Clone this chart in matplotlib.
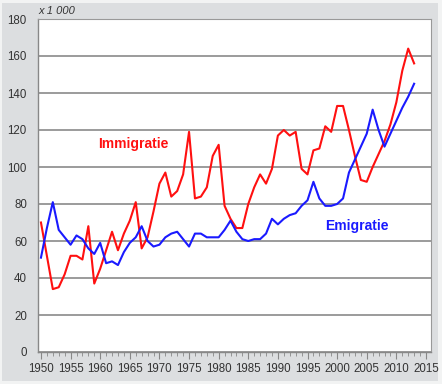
import matplotlib
matplotlib.use("Agg")
import matplotlib.pyplot as plt
from matplotlib.patches import Rectangle
from matplotlib.ticker import MultipleLocator

years = list(range(1950, 2014))
immigratie = [70, 52, 34, 35, 42, 52, 52, 50, 68, 37,
              45, 55, 65, 55, 64, 71, 81, 56, 62, 76,
              91, 97, 84, 87, 96, 119, 83, 84, 89, 106,
              112, 79, 72, 67, 67, 80, 89, 96, 91, 99,
              117, 120, 117, 119, 99, 96, 109, 110, 122, 119,
              133, 133, 120, 106, 93, 92, 100, 107, 114, 123,
              135, 152, 164, 156]
emigratie = [51, 67, 81, 66, 62, 58, 63, 61, 56, 53,
             59, 48, 49, 47, 54, 59, 62, 68, 60, 57,
             58, 62, 64, 65, 61, 57, 64, 64, 62, 62,
             62, 66, 71, 65, 61, 60, 61, 61, 64, 72,
             69, 72, 74, 75, 79, 82, 92, 83, 79, 79,
             80, 83, 97, 104, 111, 118, 131, 120, 111, 118,
             125, 132, 138, 145]
yticks = [0, 20, 40, 60, 80, 100, 120, 140, 160, 180]
xticks = list(range(1950, 2016, 5))

plt.rcParams['font.family'] = ['Liberation Sans', 'DejaVu Sans']

fig = plt.figure(figsize=(4.42, 3.84), dpi=100, facecolor='#f2f3f3')
fig.patches.append(Rectangle((0.005, 0.008), 0.986, 0.984, transform=fig.transFigure,
                             facecolor='#dcdee0', edgecolor='none', zorder=-10))
ax = fig.add_axes([38/442, 1-352/384, 393/442, 333/384])
ax.set_facecolor('white')

ax.plot(years, immigratie, color='#ff1010', lw=1.5, zorder=3)
ax.plot(years, emigratie, color='#1a1aff', lw=1.5, zorder=3)

ax.set_xlim(1949.5, 2015.85)
ax.set_ylim(0, 180)
ax.set_yticks(yticks)
ax.set_xticks(xticks)
ax.xaxis.set_minor_locator(MultipleLocator(1))
ax.grid(axis='y', color='#808080', lw=1.1, zorder=1)
ax.tick_params(axis='y', length=0, pad=8, labelsize=8.3, labelcolor='#333333')
ax.tick_params(axis='x', which='major', length=5, width=0.8, color='#888888', pad=3,
               labelsize=8.3, labelcolor='#333333')
ax.tick_params(axis='x', which='minor', length=3, width=0.6, color='#888888')
for s in ['top', 'right']:
    ax.spines[s].set_color('#999999')
    ax.spines[s].set_linewidth(0.8)
for s in ['left', 'bottom']:
    ax.spines[s].set_color('#888888')
    ax.spines[s].set_linewidth(1.0)

ax.text(1959.6, 112.5, 'Immigratie', color='#ff1010', fontsize=10, fontweight='bold',
        va='center', ha='left')
ax.text(1997.9, 68, 'Emigratie', color='#1a1aff', fontsize=10, fontweight='bold',
        va='center', ha='left')
fig.text(38/442, 1-11/384, 'x 1 000', fontsize=8, style='italic', color='#333333',
         va='center', ha='left')

fig.savefig('out.png', dpi=100, facecolor=fig.get_facecolor())
